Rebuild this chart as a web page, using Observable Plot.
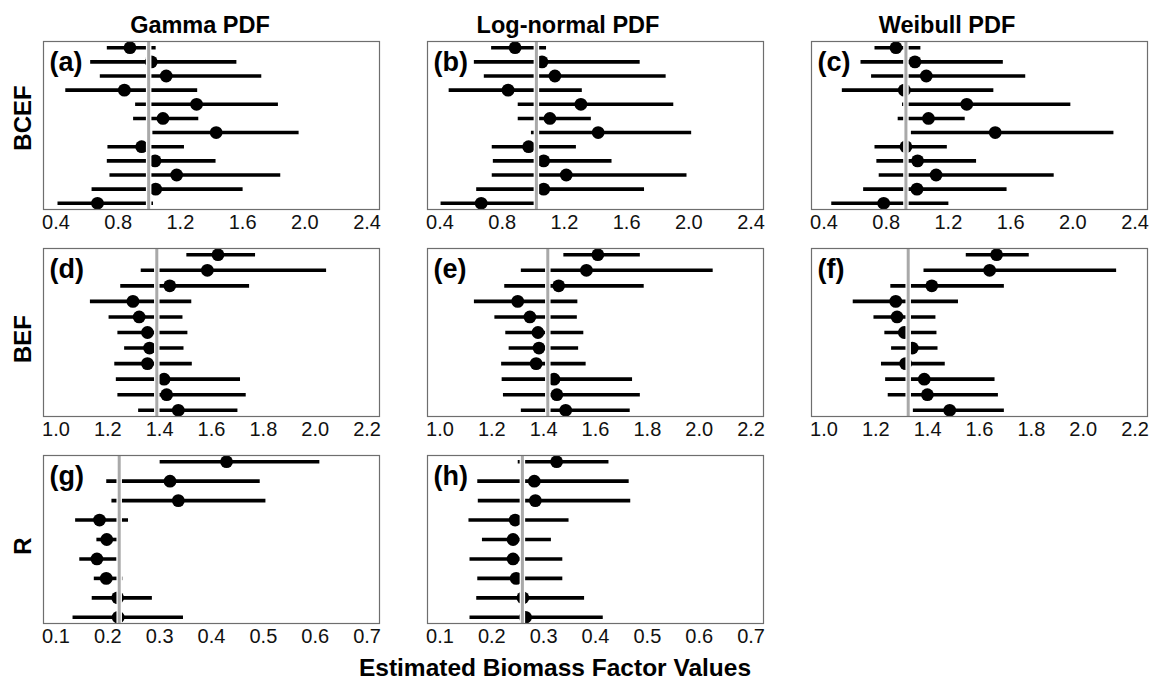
<!DOCTYPE html>
<html><head><meta charset="utf-8">
<script src="https://cdn.jsdelivr.net/npm/d3@7"></script>
<script src="https://cdn.jsdelivr.net/npm/@observablehq/plot@0.6"></script>
<style>
body{margin:0;background:#fff;font-family:"Liberation Sans",Arial,sans-serif;}
#root{position:relative;width:1153px;height:683px;overflow:hidden;background:#fff;}
.t{position:absolute;font-weight:bold;color:#000;white-space:nowrap;line-height:1;}
.p{position:absolute;}
</style></head><body><div id="root"></div>
<script>
// Column / row / axis labels
const colTitles = ["Gamma PDF", "Log-normal PDF", "Weibull PDF"];
const rowTitles = ["BCEF", "BEF", "R"];
const axisTitle = "Estimated Biomass Factor Values";
const letters = ["(a)","(b)","(c)","(d)","(e)","(f)","(g)","(h)"];

// Tick labels per row
const ticksBCEF = [0.4, 0.8, 1.2, 1.6, 2.0, 2.4];
const ticksBEF = [1.0, 1.2, 1.4, 1.6, 1.8, 2.0, 2.2];
const ticksR = [0.1, 0.2, 0.3, 0.4, 0.5, 0.6, 0.7];

// (a) Gamma BCEF
const aEst = [0.876,1.013,1.109,0.840,1.304,1.088,1.430,0.951,1.037,1.176,1.041,0.667];
const aLo  = [0.727,0.620,0.682,0.460,0.909,0.896,1.020,0.731,0.727,0.744,0.629,0.410];
const aHi  = [1.041,1.560,1.720,1.308,1.827,1.315,1.960,1.223,1.426,1.842,1.600,1.024];
const aRef = 0.996;
// (b) Log-normal BCEF
const bEst = [0.883,1.056,1.139,0.838,1.306,1.107,1.417,0.970,1.067,1.212,1.067,0.665];
const bLo  = [0.729,0.618,0.682,0.456,0.900,0.900,0.985,0.733,0.740,0.733,0.633,0.404];
const bHi  = [1.082,1.684,1.851,1.312,1.900,1.370,2.015,1.274,1.503,1.985,1.712,1.032];
const bRef = 1.02;
// (c) Weibull BCEF
const cEst = [0.863,0.985,1.058,0.917,1.318,1.072,1.501,0.927,1.002,1.121,0.998,0.784];
const cLo  = [0.725,0.635,0.703,0.515,0.902,0.874,0.959,0.725,0.737,0.752,0.652,0.447];
const cHi  = [1.020,1.550,1.694,1.489,1.984,1.305,2.261,1.190,1.378,1.877,1.574,1.200];
const cRef = 0.927;
// (d) Gamma BEF
const dEst = [1.625,1.584,1.439,1.297,1.321,1.353,1.361,1.353,1.417,1.427,1.472];
const dLo  = [1.503,1.327,1.248,1.131,1.203,1.237,1.263,1.225,1.231,1.237,1.317];
const dHi  = [1.768,2.042,1.745,1.522,1.488,1.507,1.492,1.524,1.710,1.732,1.700];
const dRef = 1.389;
// (e) Log-normal BEF
const eEst = [1.609,1.565,1.458,1.300,1.347,1.378,1.382,1.371,1.440,1.451,1.485];
const eLo  = [1.476,1.312,1.248,1.131,1.210,1.252,1.265,1.236,1.238,1.243,1.312];
const eHi  = [1.771,2.052,1.786,1.530,1.528,1.553,1.533,1.562,1.741,1.771,1.732];
const eRef = 1.416;
// (f) Weibull BEF
const fEst = [1.666,1.639,1.416,1.277,1.282,1.310,1.341,1.315,1.387,1.399,1.485];
const fLo  = [1.547,1.384,1.256,1.111,1.191,1.233,1.259,1.220,1.236,1.246,1.343];
const fHi  = [1.790,2.127,1.694,1.517,1.430,1.434,1.438,1.466,1.658,1.671,1.694];
const fRef = 1.325;
// (g) Gamma R
const gEst = [0.429,0.320,0.336,0.184,0.198,0.179,0.197,0.219,0.220];
const gLo  = [0.300,0.197,0.207,0.137,0.178,0.145,0.173,0.169,0.132];
const gHi  = [0.608,0.493,0.504,0.239,0.225,0.217,0.228,0.285,0.345];
const gRef = 0.222;
// (h) Log-normal R
const hEst = [0.325,0.282,0.284,0.245,0.241,0.241,0.247,0.260,0.265];
const hLo  = [0.250,0.172,0.173,0.155,0.181,0.157,0.172,0.170,0.157];
const hHi  = [0.425,0.464,0.467,0.348,0.314,0.336,0.336,0.378,0.414];
const hRef = 0.259;

const FONT = '"Liberation Sans", Arial, sans-serif';
const root = document.getElementById("root");
const colLeft = [43, 427, 811];
const rowTop = [41, 248, 455];
const W = 336, H = 168, ML = 20, MR = 6, MT = 2, MB = 32;

function panel(est, lo, hi, ref, ticks, letter, col, row) {
  const n = est.length;
  const pad = (n - 1) * 0.04;
  const rows = est.map((e, i) => ({i: i + 1, est: e, lo: lo[i], hi: hi[i]}));
  const t0 = ticks[0], t1 = ticks[ticks.length - 1], xp = (t1 - t0) * 0.04;
  const svg = Plot.plot({
    width: W + ML + MR, height: H + MT + MB,
    marginLeft: ML, marginRight: MR, marginTop: MT, marginBottom: MB,
    x: {domain: [t0 - xp, t1 + xp], ticks, tickFormat: d => d.toFixed(1), tickSize: 0, tickPadding: 5, label: null},
    y: {domain: [n + pad, 1 - pad], axis: null},
    style: {fontSize: "20px", fontFamily: FONT, color: "#111", background: "transparent", overflow: "visible"},
    marks: [
      Plot.link(rows, {x1: "lo", x2: "hi", y1: "i", y2: "i", stroke: "#000", strokeWidth: 3.6}),
      Plot.dot(rows, {x: "est", y: "i", r: 6.4, fill: "#000", stroke: "none"}),
      Plot.ruleX([ref], {stroke: "#fff", strokeWidth: 5.5}),
      Plot.ruleX([ref], {stroke: "#a9a9a9", strokeWidth: 3}),
      Plot.frame({stroke: "#6e6e6e", strokeWidth: 1.2}),
      Plot.text([letter], {frameAnchor: "top-left", textAnchor: "start", lineAnchor: "top", dx: 6, dy: 10,
        fontSize: 27, fontWeight: "bold", fill: "#000"})
    ]
  });
  const d = document.createElement("div");
  d.className = "p";
  d.style.left = (colLeft[col] - ML) + "px";
  d.style.top = (rowTop[row] - MT) + "px";
  d.appendChild(svg);
  root.appendChild(d);
}

panel(aEst, aLo, aHi, aRef, ticksBCEF, letters[0], 0, 0);
panel(bEst, bLo, bHi, bRef, ticksBCEF, letters[1], 1, 0);
panel(cEst, cLo, cHi, cRef, ticksBCEF, letters[2], 2, 0);
panel(dEst, dLo, dHi, dRef, ticksBEF, letters[3], 0, 1);
panel(eEst, eLo, eHi, eRef, ticksBEF, letters[4], 1, 1);
panel(fEst, fLo, fHi, fRef, ticksBEF, letters[5], 2, 1);
panel(gEst, gLo, gHi, gRef, ticksR, letters[6], 0, 2);
panel(hEst, hLo, hHi, hRef, ticksR, letters[7], 1, 2);

function label(text, x, y, size, rotate) {
  const d = document.createElement("div");
  d.className = "t";
  d.textContent = text;
  d.style.fontSize = size + "px";
  d.style.left = x + "px";
  d.style.top = y + "px";
  d.style.transform = rotate ? "translate(-50%,-50%) rotate(-90deg)" : "translateX(-50%)";
  root.appendChild(d);
}
const colCenters = [200, 568, 947];
colTitles.forEach((t, i) => label(t, colCenters[i], 14, 23.5, false));
const rowCenters = [118, 339, 546];
rowTitles.forEach((t, i) => label(t, 23, rowCenters[i], 24, true));
label(axisTitle, 555, 656, 24.5, false);
</script></body></html>
